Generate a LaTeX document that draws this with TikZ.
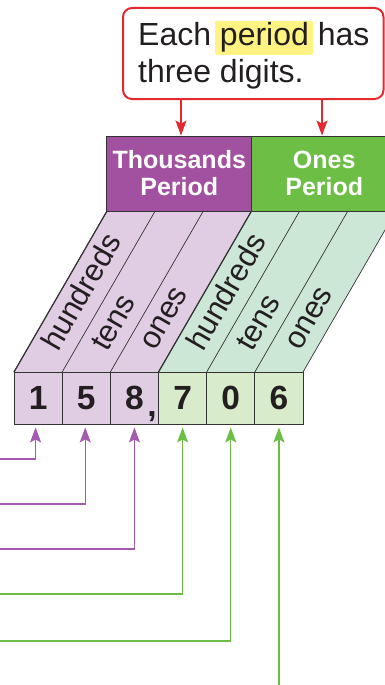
\documentclass[tikz,border=0pt]{standalone}
\usepackage{fontspec}
\setmainfont{Liberation Sans}
\usetikzlibrary{arrows.meta}
\definecolor{ink}{HTML}{231F20}
\definecolor{linegray}{HTML}{333333}
\definecolor{hpurple}{HTML}{A251A0}
\definecolor{hgreen}{HTML}{6DBE45}
\definecolor{lpurple}{HTML}{E1CDE3}
\definecolor{lgreen}{HTML}{CDE7D7}
\definecolor{cgreen}{HTML}{D8EBCB}
\definecolor{rred}{HTML}{E52A2F}
\definecolor{hlyellow}{HTML}{FFF382}
\definecolor{apurple}{HTML}{A45AAE}
\definecolor{agreen}{HTML}{6DBE45}
\begin{document}
\begin{tikzpicture}[x=1pt,y=-1pt,
  cell/.style={draw=linegray, line width=0.9pt, minimum width=48.17pt, minimum height=52pt, inner sep=0pt, font=\fontsize{33.5}{33.5}\selectfont\bfseries, text=ink},
  lbl/.style={rotate=60, anchor=base west, inner sep=0pt, font=\fontsize{31}{31}\selectfont, text=ink},
  hdr/.style={draw=linegray, line width=0.9pt, minimum width=145pt, minimum height=75pt, inner sep=0pt, align=center, text=white, font=\fontsize{25}{27}\selectfont\bfseries},
  rarr/.style={-{Stealth[length=15pt,width=11pt,inset=3pt]}, line width=1.5pt, draw=rred},
  parr/.style={-{Stealth[length=15pt,width=11pt,inset=3pt]}, line width=1.2pt, draw=apurple, shorten >=3pt},
  garr/.style={-{Stealth[length=15pt,width=11pt,inset=3pt]}, line width=1.2pt, draw=agreen, shorten >=3pt},
  divider/.style={draw=linegray, line width=0.7pt}
]
\useasboundingbox (0,0) rectangle (385,685);

% callout
\node[draw=rred, line width=2pt, rounded corners=9pt, minimum width=260.5pt, minimum height=91pt, inner sep=0pt] (callout) at (253.25,53.5) {};
\fill[hlyellow, rounded corners=2pt] (215,21) rectangle (313,55);
\node[anchor=base west, align=left, inner sep=0pt, text=ink, font=\fontsize{32}{36}\selectfont] (ctext) at (138,82) {Each period has\\three digits.};

% columns
\fill[lpurple] (14,372) -- (107,211) -- (251.5,211) -- (158.5,372) -- cycle;
\fill[lgreen] (158.5,372) -- (251.5,211) -- (396,211) -- (303,372) -- cycle;
\foreach \i in {0,...,6} {
  \draw[divider] (14+48.17*\i,372) -- ++(93,-161);
}
\draw[linegray, line width=1.2pt] (14,372) -- ++(93,-161);
\draw[linegray, line width=1.2pt] (158.5,372) -- ++(93,-161);

% headers
\node[hdr, fill=hpurple] (th) at (179.25,173.5) {Thousands\\Period};
\node[hdr, fill=hgreen] (on) at (324.25,173.5) {Ones\\Period};

\draw[rarr] ([xshift=1.75pt]th.north |- callout.south) -- ([xshift=1.75pt]th.north);
\draw[rarr] ([xshift=-2.25pt]on.north |- callout.south) -- ([xshift=-2.25pt]on.north);

% labels
\node[lbl] (l1) at (58,353) {hundreds};
\node[lbl] (l2) at (107,353) {tens};
\node[lbl] (l3) at (155,352) {ones};
\node[lbl] (l4) at (203,353) {hundreds};
\node[lbl] (l5) at (252,353) {tens};
\node[lbl] (l6) at (300,352) {ones};

% digit cells
\node[cell, fill=lpurple] (c1) at (38.08,398) {1};
\node[cell, fill=lpurple] (c2) at (86.25,398) {5};
\node[cell, fill=lpurple] (c3) at (134.43,398) {8};
\node[cell, fill=cgreen] (c4) at (182.6,398) {7};
\node[cell, fill=cgreen] (c5) at (230.77,398) {0};
\node[cell, fill=cgreen] (c6) at (278.94,398) {6};
\node[anchor=base, inner sep=0pt, text=ink, font=\fontsize{33.5}{33.5}\selectfont\bfseries] (comma) at (152,416) {,};

% connectors
\coordinate (p1) at (0,459);
\coordinate (p2) at (0,504);
\coordinate (p3) at (0,549);
\coordinate (p4) at (0,594);
\coordinate (p5) at (0,641);
\coordinate (p6) at (278.94,685);
\draw[parr] (p1) -| ([xshift=-2.5pt]c1.south);
\draw[parr] (p2) -| ([xshift=-1pt]c2.south);
\draw[parr] (p3) -| (c3.south);
\draw[garr] (p4) -| (c4.south);
\draw[garr] (p5) -| (c5.south);
\draw[garr] (p6) -- (c6.south);
\end{tikzpicture}
\end{document}
